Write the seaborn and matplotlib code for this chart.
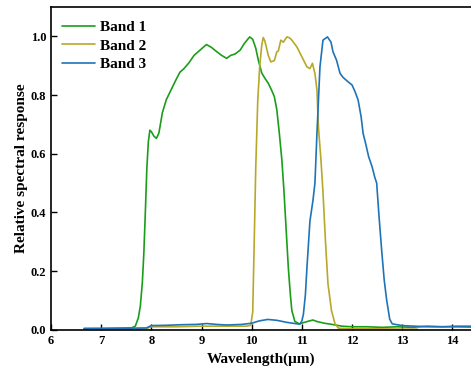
import numpy as np
import pandas as pd
import matplotlib
matplotlib.use("Agg")
import matplotlib.pyplot as plt
import seaborn as sns

# Relative spectral response curves of three thermal infrared bands
band1_wl = [6.66, 7.0, 7.3, 7.6, 7.68, 7.74, 7.78, 7.82, 7.85, 7.88, 7.91, 7.94, 7.97, 8.0,
            8.05, 8.1, 8.15, 8.22, 8.3, 8.4, 8.5, 8.57, 8.65, 8.75, 8.85, 8.95, 9.05, 9.1,
            9.2, 9.3, 9.4, 9.5, 9.58, 9.67, 9.77, 9.85, 9.92, 9.96, 10.02, 10.08, 10.13,
            10.2, 10.27, 10.33, 10.4, 10.45, 10.5, 10.55, 10.6, 10.64, 10.69, 10.73, 10.77,
            10.8, 10.86, 10.95, 11.05, 11.15, 11.22, 11.3, 11.45, 11.6, 11.8, 12.0, 12.3,
            12.6, 12.9, 13.2, 13.5, 13.8, 14.1, 14.37]
band1_resp = [0.004, 0.004, 0.005, 0.006, 0.012, 0.04, 0.08, 0.16, 0.26, 0.40, 0.55, 0.64,
              0.68, 0.675, 0.66, 0.652, 0.67, 0.74, 0.785, 0.82, 0.855, 0.878, 0.89, 0.91,
              0.935, 0.95, 0.965, 0.972, 0.962, 0.948, 0.935, 0.925, 0.935, 0.94, 0.953,
              0.975, 0.99, 0.998, 0.99, 0.96, 0.92, 0.875, 0.855, 0.84, 0.815, 0.795, 0.75,
              0.67, 0.58, 0.48, 0.33, 0.21, 0.12, 0.065, 0.028, 0.02, 0.025, 0.03, 0.033,
              0.028, 0.022, 0.018, 0.012, 0.01, 0.01, 0.008, 0.01, 0.008, 0.012, 0.01,
              0.012, 0.012]

band2_wl = [6.66, 7.5, 7.9, 8.0, 8.5, 9.0, 9.5, 9.9, 9.98, 10.02, 10.05, 10.08, 10.12,
            10.16, 10.2, 10.23, 10.26, 10.29, 10.33, 10.38, 10.45, 10.5, 10.53, 10.58,
            10.63, 10.7, 10.75, 10.8, 10.9, 11.0, 11.1, 11.16, 11.21, 11.26, 11.3, 11.33,
            11.38, 11.42, 11.47, 11.52, 11.59, 11.66, 11.73, 12.0, 12.5, 13.0, 13.3]
band2_resp = [0.002, 0.002, 0.004, 0.01, 0.01, 0.012, 0.012, 0.012, 0.015, 0.06, 0.3,
              0.55, 0.78, 0.9, 0.97, 0.996, 0.985, 0.964, 0.935, 0.913, 0.917, 0.947,
              0.95, 0.987, 0.98, 0.998, 0.995, 0.987, 0.964, 0.93, 0.896, 0.89, 0.908,
              0.873, 0.817, 0.69, 0.578, 0.47, 0.3, 0.156, 0.065, 0.02, 0.005, 0.003,
              0.003, 0.002, 0.002]

band3_wl = [6.66, 7.5, 7.9, 8.0, 8.3, 8.6, 8.9, 9.1, 9.3, 9.5, 9.8, 10.0, 10.15, 10.32,
            10.5, 10.7, 10.9, 10.96, 11.0, 11.03, 11.07, 11.1, 11.16, 11.22, 11.26, 11.3,
            11.36, 11.42, 11.51, 11.58, 11.62, 11.69, 11.76, 11.82, 11.92, 12.0, 12.06,
            12.12, 12.18, 12.22, 12.27, 12.33, 12.4, 12.45, 12.49, 12.54, 12.59, 12.64,
            12.69, 12.75, 12.8, 13.0, 13.5, 14.0, 14.37]
band3_resp = [0.004, 0.005, 0.006, 0.014, 0.015, 0.017, 0.018, 0.021, 0.018, 0.016, 0.018,
              0.022, 0.03, 0.035, 0.032, 0.025, 0.02, 0.019, 0.03, 0.053, 0.12, 0.21, 0.37,
              0.44, 0.5, 0.669, 0.896, 0.987, 0.998, 0.98, 0.947, 0.919, 0.874, 0.86,
              0.845, 0.834, 0.811, 0.783, 0.726, 0.669, 0.635, 0.59, 0.555, 0.521, 0.5,
              0.38, 0.27, 0.17, 0.1, 0.036, 0.02, 0.014, 0.01, 0.01, 0.009]

band_names = ["Band 1", "Band 2", "Band 3"]
band_colors = ["#1a9e1a", "#b8a829", "#1f74b8"]

x_ticks = [6, 7, 8, 9, 10, 11, 12, 13, 14]
y_ticks = [0.0, 0.2, 0.4, 0.6, 0.8, 1.0]

frames = []
for name, wl, resp in zip(band_names,
                          [band1_wl, band2_wl, band3_wl],
                          [band1_resp, band2_resp, band3_resp]):
    frames.append(pd.DataFrame({"Wavelength": wl, "Response": resp, "Band": name}))
df = pd.concat(frames, ignore_index=True)

sns.set_style("ticks")
plt.rcParams["font.family"] = ["Liberation Serif", "DejaVu Serif"]
plt.rcParams["font.weight"] = "bold"
plt.rcParams["text.color"] = "black"
plt.rcParams["axes.labelcolor"] = "black"
plt.rcParams["xtick.color"] = "black"
plt.rcParams["ytick.color"] = "black"

fig = plt.figure(figsize=(4.71, 3.68), dpi=100)
ax = fig.add_axes([51 / 471, 38.3 / 368, 420 / 471, 322.7 / 368])

sns.lineplot(data=df, x="Wavelength", y="Response", hue="Band",
             palette=dict(zip(band_names, band_colors)), estimator=None,
             sort=False, linewidth=1.2, ax=ax)

ax.set_xlim(6, 14.37)
ax.set_ylim(0, 1.1)
ax.set_xticks(x_ticks)
ax.set_yticks(y_ticks)
ax.set_xticklabels([str(t) for t in x_ticks], fontsize=9, fontweight="bold", color="black")
ax.set_yticklabels([f"{t:.1f}" for t in y_ticks], fontsize=9, fontweight="bold", color="black")
ax.tick_params(direction="in", length=4, width=1, colors="black")
ax.set_xlabel("Wavelength(\u03bcm)", fontsize=11, fontweight="bold", labelpad=4, color="black")
ax.set_ylabel("Relative spectral response", fontsize=11, fontweight="bold", labelpad=2,
              color="black")

for side in ["left", "bottom", "top"]:
    ax.spines[side].set_linewidth(1.2)
    ax.spines[side].set_color("black")
ax.spines["right"].set_visible(False)

leg = ax.legend(loc="upper left", frameon=False, fontsize=11, handlelength=2.2,
                handletextpad=0.3, labelspacing=0.32, borderaxespad=0.3,
                bbox_to_anchor=(0.0, 0.992))
for t in leg.get_texts():
    t.set_fontweight("bold")
    t.set_color("black")

fig.savefig("out.png", dpi=100)
